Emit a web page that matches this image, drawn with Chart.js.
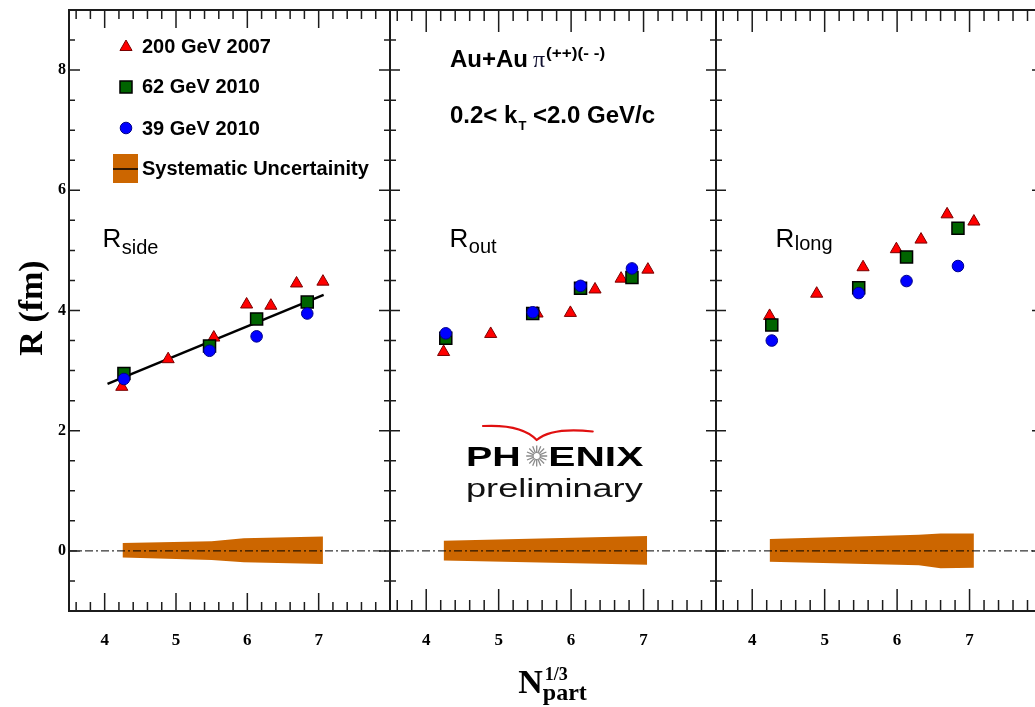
<!DOCTYPE html>
<html>
<head>
<meta charset="utf-8">
<script src="https://cdn.jsdelivr.net/npm/chart.js@4.4.1/dist/chart.umd.min.js"></script>
<style>
  html, body { margin: 0; padding: 0; background: #fff; overflow: hidden; }
  #wrap { position: relative; width: 1035px; height: 707px; overflow: hidden; background: #fff; }
  #wrap canvas { position: absolute; top: 0; }
</style>
</head>
<body>
<div id="wrap">
  <canvas id="pSide" width="400" height="707" style="left:0px"></canvas>
  <canvas id="pOut" width="346" height="707" style="left:380px"></canvas>
  <canvas id="pLong" width="346" height="707" style="left:706px"></canvas>
</div>
<script>
// ---- axis ticks ----
const xTickLabels = [4, 5, 6, 7];
const yTickLabels = [0, 2, 4, 6, 8];

// ---- series ----
const seriesNames = ['200 GeV 2007', '62 GeV 2010', '39 GeV 2010'];
const npart200 = [4.24, 4.89, 5.53, 5.99, 6.33, 6.69, 7.06];
const npartLow = [4.27, 5.47, 6.13, 6.84];

const rSide200 = [2.73, 3.19, 3.55, 4.10, 4.08, 4.45, 4.48];
const rSide62  = [2.95, 3.41, 3.86, 4.14];
const rSide39  = [2.86, 3.33, 3.57, 3.95];
const rSideFitX = [4.04, 7.07];
const rSideFitY = [2.78, 4.26];

const rOut200 = [3.31, 3.61, 3.95, 3.96, 4.35, 4.53, 4.68];
const rOut62  = [3.54, 3.95, 4.37, 4.55];
const rOut39  = [3.62, 3.97, 4.41, 4.70];

const rLong200 = [3.91, 4.28, 4.72, 5.02, 5.18, 5.60, 5.48];
const rLong62  = [3.76, 4.38, 4.89, 5.37];
const rLong39  = [3.50, 4.29, 4.49, 4.74];

// ---- systematic uncertainty bands (upper / lower edge) ----
const sysSideX  = [4.25, 5.5, 5.95, 7.06];
const sysSideHi = [0.13, 0.16, 0.21, 0.24];
const sysSideLo = [-0.11, -0.15, -0.19, -0.22];
const sysOutX  = [4.24, 7.05];
const sysOutHi = [0.17, 0.25];
const sysOutLo = [-0.16, -0.23];
const sysLongX  = [4.24, 6.3, 6.6, 7.06];
const sysLongHi = [0.20, 0.27, 0.29, 0.29];
const sysLongLo = [-0.18, -0.24, -0.29, -0.28];

const X_MIN = 3.5, X_MAX = 8, Y_MIN = -1, Y_MAX = 9;

const SANS = "'Liberation Sans', Arial, sans-serif";
const SERIF = "'Liberation Serif', 'Times New Roman', serif";

const markerStyles = [
  { pointStyle: 'triangle', radius: 7,   bg: '#ff0000', border: '#7a0000', bw: 1 },
  { pointStyle: 'rect',     radius: 8.5, bg: '#006400', border: '#000000', bw: 1.5 },
  { pointStyle: 'circle',   radius: 5.8, bg: '#0000ff', border: '#00008a', bw: 1 }
];

function pts(xs, ys) { return xs.map((x, i) => ({ x: x, y: ys[i] })); }

function markerSet(label, xs, ys, st) {
  return {
    label: label, data: pts(xs, ys), showLine: false,
    pointStyle: st.pointStyle, pointRadius: st.radius, pointHoverRadius: st.radius,
    pointBackgroundColor: st.bg, pointBorderColor: st.border, pointBorderWidth: st.bw
  };
}

function panelDatasets(v200, v62, v39, bandX, bandHi, bandLo, fitX, fitY) {
  const ds = [
    markerSet(seriesNames[2], npartLow, v39, markerStyles[2]),
    markerSet(seriesNames[1], npartLow, v62, markerStyles[1]),
    markerSet(seriesNames[0], npart200, v200, markerStyles[0])
  ];
  if (fitX) {
    ds.push({ label: 'fit', data: pts(fitX, fitY), borderColor: '#000', borderWidth: 2.5,
              pointRadius: 0, fill: false, tension: 0 });
  }
  ds.push({ label: 'zero', data: pts([X_MIN, X_MAX], [0, 0]), borderColor: '#000', borderWidth: 1,
            borderDash: [8, 3, 2, 3], pointRadius: 0, fill: false });
  ds.push({ label: 'sys+', data: pts(bandX, bandHi), borderColor: 'rgba(0,0,0,0)', borderWidth: 0,
            backgroundColor: '#cc6600', pointRadius: 0, fill: '+1', tension: 0 });
  ds.push({ label: 'sys-', data: pts(bandX, bandLo), borderColor: 'rgba(0,0,0,0)', borderWidth: 0,
            pointRadius: 0, fill: false, tension: 0 });
  return ds;
}

// frame with inward ticks on all four sides
function framePlugin(len) {
  return {
    id: 'frame',
    afterDatasetsDraw(chart) {
      const ctx = chart.ctx, a = chart.chartArea;
      const sx = chart.scales.x, sy = chart.scales.y;
      ctx.save();
      ctx.strokeStyle = '#1c1c1c';
      ctx.lineWidth = 1.5;
      ctx.beginPath();
      for (let k = 18; k <= 40; k++) {
        const px = sx.getPixelForValue(k / 5);
        const l = (k % 5 === 0) ? len.xMajor : len.xMinor;
        ctx.moveTo(px, a.bottom); ctx.lineTo(px, a.bottom - l);
        ctx.moveTo(px, a.top); ctx.lineTo(px, a.top + l);
      }
      for (let k = -2; k <= 18; k++) {
        const py = sy.getPixelForValue(k / 2);
        const l = (k % 4 === 0) ? len.yMajor : len.yMinor;
        ctx.moveTo(a.left, py); ctx.lineTo(a.left + l, py);
        ctx.moveTo(a.right, py); ctx.lineTo(a.right - l, py);
      }
      ctx.stroke();
      ctx.lineWidth = 2;
      ctx.strokeRect(a.left, a.top, a.right - a.left, a.bottom - a.top);
      ctx.restore();
    }
  };
}

// free text drawn in page coordinates
function notesPlugin(offset, draw) {
  return {
    id: 'notes',
    afterDraw(chart) {
      const ctx = chart.ctx;
      ctx.save();
      ctx.translate(-offset, 0);
      draw(ctx);
      ctx.restore();
    }
  };
}

function put(ctx, s, x, y, font, color) {
  ctx.font = font; ctx.fillStyle = color || '#000';
  ctx.textAlign = 'left'; ctx.textBaseline = 'alphabetic';
  ctx.fillText(s, x, y);
  return x + ctx.measureText(s).width;
}

function stretched(ctx, s, x, y, font, targetW, color) {
  ctx.save();
  ctx.font = font; ctx.fillStyle = color || '#000';
  ctx.textAlign = 'left'; ctx.textBaseline = 'alphabetic';
  const w = ctx.measureText(s).width;
  ctx.translate(x, y); ctx.scale(targetW / w, 1);
  ctx.fillText(s, 0, 0);
  ctx.restore();
}

// legend symbol in the same shapes the chart uses for its points
function legendSymbol(ctx, st, x, y) {
  const r = st.radius;
  ctx.beginPath();
  if (st.pointStyle === 'triangle') {
    ctx.moveTo(x, y - r);
    ctx.lineTo(x + r * Math.sin(2 * Math.PI / 3), y - r * Math.cos(2 * Math.PI / 3));
    ctx.lineTo(x + r * Math.sin(4 * Math.PI / 3), y - r * Math.cos(4 * Math.PI / 3));
    ctx.closePath();
  } else if (st.pointStyle === 'rect') {
    const h = r * Math.SQRT1_2;
    ctx.rect(x - h, y - h, 2 * h, 2 * h);
  } else {
    ctx.arc(x, y, r, 0, 2 * Math.PI);
  }
  ctx.fillStyle = st.bg; ctx.fill();
  ctx.strokeStyle = st.border; ctx.lineWidth = st.bw; ctx.stroke();
}

function radiusLabel(ctx, sub, x, y, subY) {
  const nx = put(ctx, 'R', x, y, '26px ' + SANS);
  put(ctx, sub, nx + 0.5, subY, '20px ' + SANS);
}

function drawSideNotes(ctx) {
  // legend
  const rowsY = [47, 87, 128];
  const baseY = [52.7, 93.3, 135];
  for (let i = 0; i < 3; i++) {
    legendSymbol(ctx, markerStyles[i], 126, rowsY[i]);
    put(ctx, seriesNames[i], 142, baseY[i], 'bold 20px ' + SANS);
  }
  ctx.fillStyle = '#cc6600';
  ctx.fillRect(113, 154, 25, 29);
  ctx.strokeStyle = '#000'; ctx.lineWidth = 1.5;
  ctx.beginPath(); ctx.moveTo(113, 169); ctx.lineTo(138, 169); ctx.stroke();
  put(ctx, 'Systematic Uncertainity', 142, 175, 'bold 20px ' + SANS);

  radiusLabel(ctx, 'side', 102.5, 246.7, 254);

  // y-axis title
  ctx.save();
  ctx.translate(42, 308);
  ctx.rotate(-Math.PI / 2);
  ctx.font = 'bold 34px ' + SERIF; ctx.fillStyle = '#000';
  ctx.textAlign = 'center'; ctx.textBaseline = 'alphabetic';
  ctx.fillText('R (fm)', 0, 0);
  ctx.restore();
}

function drawOutNotes(ctx) {
  let x = put(ctx, 'Au+Au', 450, 66.7, 'bold 24px ' + SANS);
  x = put(ctx, '\u03c0', x + 5, 66.7, '24px ' + SERIF, '#101030');
  stretched(ctx, '(++)(- -)', x + 1, 58, 'bold 14px ' + SANS, 59);

  x = put(ctx, '0.2< k', 450, 123.3, 'bold 24px ' + SANS);
  x = put(ctx, 'T', x + 1, 130, 'bold 13px ' + SANS);
  put(ctx, ' <2.0 GeV/c', x, 123.3, 'bold 24px ' + SANS);

  radiusLabel(ctx, 'out', 449.5, 247.3, 252.7);

  // PHENIX preliminary mark
  ctx.strokeStyle = '#e01010'; ctx.lineWidth = 2.2; ctx.lineCap = 'round';
  ctx.beginPath();
  ctx.moveTo(483, 426); ctx.quadraticCurveTo(522, 424, 536.7, 440);
  ctx.moveTo(536.7, 440); ctx.quadraticCurveTo(552, 427, 592.7, 431.5);
  ctx.stroke();
  stretched(ctx, 'PH', 466, 466, 'bold 28px ' + SANS, 54.7);
  stretched(ctx, 'ENIX', 548.3, 466, 'bold 28px ' + SANS, 95);
  ctx.strokeStyle = '#8a8a8a'; ctx.lineWidth = 1.3; ctx.lineCap = 'butt';
  ctx.beginPath();
  for (let i = 0; i < 16; i++) {
    const t = i * Math.PI / 8;
    ctx.moveTo(536.7 + 3 * Math.cos(t), 456 + 3 * Math.sin(t));
    ctx.lineTo(536.7 + 10.5 * Math.cos(t), 456 + 10.5 * Math.sin(t));
  }
  ctx.stroke();
  stretched(ctx, 'preliminary', 466, 496.7, '26px ' + SANS, 176.7, '#111');

  // x-axis title
  const nx = put(ctx, 'N', 518.3, 692.7, 'bold 34px ' + SERIF);
  put(ctx, '1/3', nx + 2, 680, 'bold 18px ' + SERIF);
  put(ctx, 'part', nx, 700, 'bold 24px ' + SERIF);
}

function drawLongNotes(ctx) {
  radiusLabel(ctx, 'long', 775.5, 246.7, 250);
}

function makePanel(id, offset, showY, padL, padR, tickLen, datasets, drawNotes) {
  const tickFont = { family: SERIF, weight: 'bold', size: 17 };
  return new Chart(document.getElementById(id), {
    type: 'line',
    data: { datasets: datasets },
    plugins: [framePlugin(tickLen), notesPlugin(offset, drawNotes)],
    options: {
      responsive: false, animation: false, devicePixelRatio: 1,
      layout: { padding: { top: 10, bottom: 0, left: padL, right: padR } },
      plugins: {
        legend: { display: false }, tooltip: { enabled: false },
        filler: { drawTime: 'beforeDatasetsDraw' }
      },
      scales: {
        x: {
          type: 'linear', min: X_MIN, max: X_MAX,
          grid: { display: false, drawTicks: false }, border: { display: false },
          ticks: { font: tickFont, color: '#000', padding: 19, maxRotation: 0 },
          afterBuildTicks: s => { s.ticks = xTickLabels.map(v => ({ value: v })); },
          afterFit: s => { s.height = 96; s.paddingLeft = 0; s.paddingRight = 0; }
        },
        y: {
          type: 'linear', min: Y_MIN, max: Y_MAX, display: showY,
          grid: { display: false, drawTicks: false }, border: { display: false },
          ticks: { font: { family: SERIF, weight: 'bold', size: 16 }, color: '#000', padding: 3 },
          afterBuildTicks: s => { s.ticks = yTickLabels.map(v => ({ value: v })); },
          afterFit: s => { s.width = showY ? 69 : 0; s.paddingTop = 0; s.paddingBottom = 0; }
        }
      }
    }
  });
}

makePanel('pSide', 0, true, 0, 10,
  { xMajor: 18, xMinor: 9, yMajor: 11, yMinor: 6 },
  panelDatasets(rSide200, rSide62, rSide39, sysSideX, sysSideHi, sysSideLo, rSideFitX, rSideFitY),
  drawSideNotes);

makePanel('pOut', 380, false, 10, 10,
  { xMajor: 22, xMinor: 11, yMajor: 10, yMinor: 6 },
  panelDatasets(rOut200, rOut62, rOut39, sysOutX, sysOutHi, sysOutLo),
  drawOutNotes);

makePanel('pLong', 706, false, 10, 10,
  { xMajor: 22, xMinor: 11, yMajor: 10, yMinor: 6 },
  panelDatasets(rLong200, rLong62, rLong39, sysLongX, sysLongHi, sysLongLo),
  drawLongNotes);
</script>
</body>
</html>
